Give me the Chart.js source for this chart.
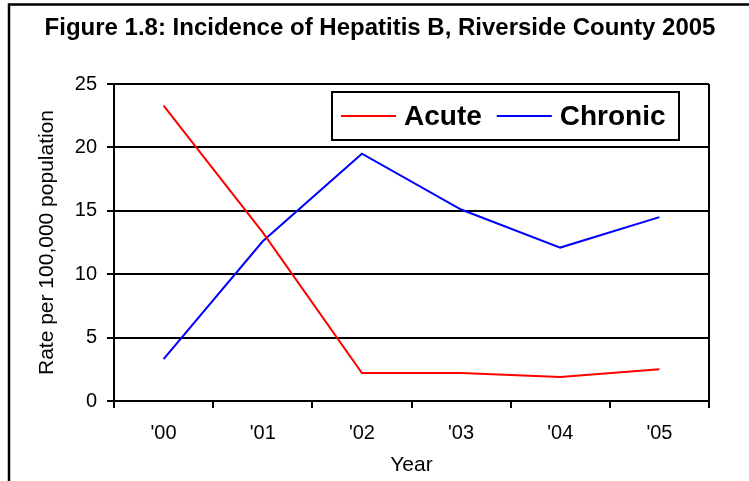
<!DOCTYPE html>
<html>
<head>
<meta charset="utf-8">
<script src="https://cdn.jsdelivr.net/npm/chart.js@4"></script>
<style>
  html, body { margin: 0; padding: 0; background: #fff; }
  #wrap { width: 749px; height: 481px; }
</style>
</head>
<body>
<div id="wrap"><canvas id="hepChart" width="749" height="481"></canvas></div>
<script>
const years = ["'00", "'01", "'02", "'03", "'04", "'05"];
const acute = [23.3, 13.3, 2.2, 2.2, 1.9, 2.5];
const chronic = [3.3, 12.6, 19.5, 15.1, 12.1, 14.5];
const yTicks = [0, 5, 10, 15, 20, 25];
const chartTitle = 'Figure 1.8: Incidence of Hepatitis B, Riverside County 2005';

const FONT = 'Arial, "Liberation Sans", sans-serif';

// frame, title, right border of the plot and the boxed legend inside the plot
const decorPlugin = {
    id: 'decor',
    afterDraw(chart) {
        const c = chart.ctx;
        const a = chart.chartArea;
        c.save();
        c.strokeStyle = '#000';
        c.lineWidth = 2.5;
        c.beginPath();
        c.moveTo(9, 481);
        c.lineTo(9, 4.5);
        c.lineTo(749, 4.5);
        c.stroke();

        // title, centred on the page frame
        c.fillStyle = '#000';
        c.font = 'bold 24px ' + FONT;
        c.textAlign = 'center';
        c.textBaseline = 'middle';
        c.fillText(chartTitle, 380, 28);

        c.lineWidth = 2;
        c.beginPath();
        c.moveTo(a.right, a.top);
        c.lineTo(a.right, a.bottom + 7);
        c.stroke();

        // legend
        const bx = 332, by = 92, bw = 347, bh = 48;
        c.fillStyle = '#fff';
        c.fillRect(bx, by, bw, bh);
        c.lineWidth = 2;
        c.strokeRect(bx, by, bw, bh);
        const my = by + bh / 2;
        c.font = 'bold 28px ' + FONT;
        c.textAlign = 'left';
        c.textBaseline = 'middle';
        c.fillStyle = '#000';
        let x = bx + 9;
        chart.data.datasets.forEach(ds => {
            c.strokeStyle = ds.borderColor;
            c.lineWidth = 2;
            c.beginPath();
            c.moveTo(x, my);
            c.lineTo(x + 55, my);
            c.stroke();
            c.fillText(ds.label, x + 63, my + 1);
            x += 63 + c.measureText(ds.label).width + 15;
        });
        c.restore();
    }
};

new Chart(document.getElementById('hepChart').getContext('2d'), {
    type: 'line',
    data: {
        labels: years,
        datasets: [
            { label: 'Acute', data: acute, borderColor: '#ff0000', borderWidth: 2, pointRadius: 0, tension: 0 },
            { label: 'Chronic', data: chronic, borderColor: '#0000ff', borderWidth: 2, pointRadius: 0, tension: 0 }
        ]
    },
    options: {
        responsive: false,
        animation: false,
        layout: { padding: { left: 0, right: 40, top: 84, bottom: 0 } },
        plugins: {
            legend: { display: false },
            tooltip: { enabled: false },
            title: { display: false }
        },
        scales: {
            x: {
                offset: true,
                grid: { offset: true, drawOnChartArea: false, color: '#000', lineWidth: 2, tickLength: 7 },
                border: { color: '#000', width: 2 },
                ticks: { color: '#000', padding: 13, font: { family: FONT, size: 20 } },
                title: {
                    display: true, text: 'Year', color: '#000',
                    font: { family: FONT, size: 21 },
                    padding: { top: 3, bottom: 3 }
                },
                afterFit(scale) { scale.height = 80; }
            },
            y: {
                min: 0,
                max: 25,
                afterBuildTicks(scale) { scale.ticks = yTicks.map(v => ({ value: v })); },
                grid: { color: '#000', lineWidth: 2, tickLength: 7 },
                border: { color: '#000', width: 2 },
                ticks: { color: '#000', padding: 10, font: { family: FONT, size: 20 } },
                title: {
                    display: true, text: 'Rate per 100,000 population', color: '#000',
                    font: { family: FONT, size: 21 },
                    padding: { top: 35, bottom: 4 }
                },
                afterFit(scale) { scale.width = 114; }
            }
        }
    },
    plugins: [decorPlugin]
});
</script>
</body>
</html>
